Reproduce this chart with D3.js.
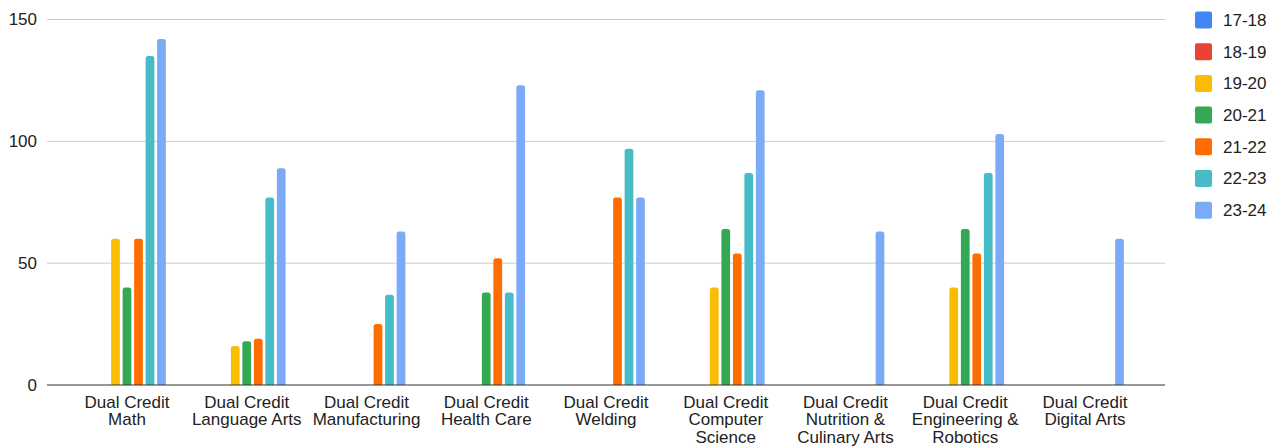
<!DOCTYPE html>
<html>
<head>
<meta charset="utf-8">
<script src="https://cdn.jsdelivr.net/npm/d3@7"></script>
<style>
  body { margin: 0; background: #fff; }
  text { font-family: "Liberation Sans", Arial, sans-serif; fill: #222; }
</style>
</head>
<body>
<div id="chart"></div>
<script>
var categories = [
  ["Dual Credit", "Math"],
  ["Dual Credit", "Language Arts"],
  ["Dual Credit", "Manufacturing"],
  ["Dual Credit", "Health Care"],
  ["Dual Credit", "Welding"],
  ["Dual Credit", "Computer", "Science"],
  ["Dual Credit", "Nutrition &", "Culinary Arts"],
  ["Dual Credit", "Engineering &", "Robotics"],
  ["Dual Credit", "Digital Arts"]
];
var years = ["17-18", "18-19", "19-20", "20-21", "21-22", "22-23", "23-24"];
var colors = ["#4285f4", "#ea4335", "#fbbc04", "#34a853", "#ff6d01", "#46bdc6", "#7baaf7"];

// one array per school year, one value per category (null = no bar)
var v1718 = [null, null, null, null, null, null, null, null, null];
var v1819 = [null, null, null, null, null, null, null, null, null];
var v1920 = [60, 16, null, null, null, 40, null, 40, null];
var v2021 = [40, 18, null, 38, null, 64, null, 64, null];
var v2122 = [60, 19, 25, 52, 77, 54, null, 54, null];
var v2223 = [135, 77, 37, 38, 97, 87, null, 87, null];
var v2324 = [142, 89, 63, 123, 77, 121, 63, 103, 60];
var series = [v1718, v1819, v1920, v2021, v2122, v2223, v2324];
var yTicks = [0, 50, 100, 150];

var W = 1277, H = 447;
var plotLeft = 47, plotRight = 1165, plotTop = 19.5, plotBottom = 385;

var svg = d3.select("#chart").append("svg")
  .attr("width", W)
  .attr("height", H);

var x0 = d3.scaleBand()
  .domain(d3.range(categories.length))
  .range([plotLeft, plotRight])
  .paddingInner(0.328)
  .paddingOuter(0.332);

var x1 = d3.scaleBand()
  .domain(d3.range(years.length))
  .range([0, x0.bandwidth()])
  .paddingInner(0.24)
  .paddingOuter(0.12);

var y = d3.scaleLinear()
  .domain([0, 150])
  .range([plotBottom, plotTop]);

// gridlines
svg.append("g")
  .selectAll("line")
  .data(yTicks.filter(function(d) { return d > 0; }))
  .enter()
  .append("line")
  .attr("x1", plotLeft)
  .attr("x2", plotRight)
  .attr("y1", function(d) { return y(d); })
  .attr("y2", function(d) { return y(d); })
  .attr("stroke", "#cccccc")
  .attr("stroke-width", 1);

// y labels
svg.append("g")
  .selectAll("text")
  .data(yTicks)
  .enter()
  .append("text")
  .attr("x", 37)
  .attr("y", function(d) { return y(d); })
  .attr("dy", "0.35em")
  .attr("text-anchor", "end")
  .attr("font-size", "17px")
  .text(function(d) { return d; });

// bars
var groups = svg.append("g")
  .selectAll("g")
  .data(categories)
  .enter()
  .append("g")
  .attr("transform", function(d, i) { return "translate(" + x0(i) + ",0)"; });

groups.selectAll("path")
  .data(function(d, ci) {
    return series.map(function(s, si) { return { si: si, v: s[ci] }; })
      .filter(function(e) { return e.v != null; });
  })
  .enter()
  .append("path")
  .attr("fill", function(d) { return colors[d.si]; })
  .attr("d", function(d) {
    var bx = x1(d.si), bw = x1.bandwidth(), by = y(d.v), r = 2.5;
    return "M" + bx + "," + plotBottom +
      "V" + (by + r) +
      "Q" + bx + "," + by + " " + (bx + r) + "," + by +
      "H" + (bx + bw - r) +
      "Q" + (bx + bw) + "," + by + " " + (bx + bw) + "," + (by + r) +
      "V" + plotBottom + "Z";
  });

// baseline
svg.append("line")
  .attr("x1", plotLeft)
  .attr("x2", plotRight)
  .attr("y1", plotBottom)
  .attr("y2", plotBottom)
  .attr("stroke", "#333333")
  .attr("stroke-width", 1.2);

// category labels
var labels = svg.append("g")
  .selectAll("text")
  .data(categories)
  .enter()
  .append("text")
  .attr("text-anchor", "middle")
  .attr("font-size", "17px")
  .attr("x", function(d, i) { return x0(i) + x0.bandwidth() / 2; })
  .attr("y", 408);

labels.selectAll("tspan")
  .data(function(d) { return d; })
  .enter()
  .append("tspan")
  .attr("x", function() { return d3.select(this.parentNode).attr("x"); })
  .attr("dy", function(d, i) { return i === 0 ? 0 : 17.3; })
  .text(function(d) { return d; });

// legend
var legend = svg.append("g")
  .selectAll("g")
  .data(years)
  .enter()
  .append("g")
  .attr("transform", function(d, i) { return "translate(1195," + (20 + i * 31.7) + ")"; });

legend.append("rect")
  .attr("x", 0)
  .attr("y", -8.5)
  .attr("width", 17)
  .attr("height", 17)
  .attr("rx", 2)
  .attr("fill", function(d, i) { return colors[i]; });

legend.append("text")
  .attr("x", 28)
  .attr("y", 0)
  .attr("dy", "0.35em")
  .attr("font-size", "17px")
  .text(function(d) { return d; });
</script>
</body>
</html>
